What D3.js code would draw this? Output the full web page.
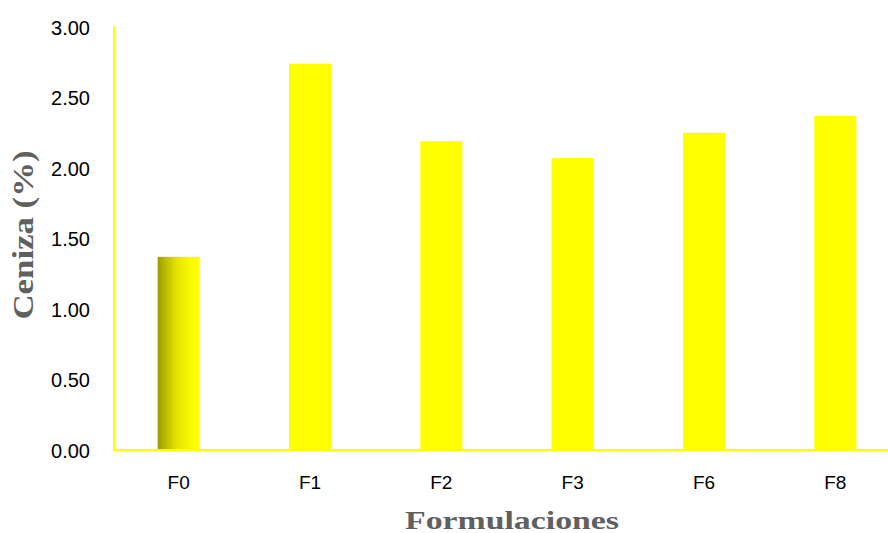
<!DOCTYPE html>
<html>
<head>
<meta charset="utf-8">
<script src="https://cdn.jsdelivr.net/npm/d3@7"></script>
<style>
  html, body { margin: 0; padding: 0; background: #ffffff; }
  svg { display: block; }
</style>
</head>
<body>
<svg id="chart" width="888" height="533"></svg>
<script>
const categories = ["F0", "F1", "F2", "F3", "F6", "F8"];
const values = [1.37, 2.74, 2.19, 2.07, 2.25, 2.37];
const yTicks = [0, 0.5, 1.0, 1.5, 2.0, 2.5, 3.0];
const xTitle = "Formulaciones";
const yTitle = "Ceniza (%)";

const svg = d3.select("#chart");
const W = 888, H = 533;
const x0 = 114, yBottom = 450, yTop = 27;

const x = d3.scaleBand().domain(categories).range([113, 901]).paddingInner(0.68).paddingOuter(0.34);
const y = d3.scaleLinear().domain([0, 3]).range([yBottom, yTop]);

const defs = svg.append("defs");
const grad = defs.append("linearGradient").attr("id", "g0").attr("x1", "0%").attr("x2", "100%").attr("y1", "0%").attr("y2", "0%");
grad.append("stop").attr("offset", "0%").attr("stop-color", "#9c9c00");
grad.append("stop").attr("offset", "45%").attr("stop-color", "#e4e400");
grad.append("stop").attr("offset", "80%").attr("stop-color", "#fbfb00");
grad.append("stop").attr("offset", "100%").attr("stop-color", "#ffff00");

// bars
svg.append("g").selectAll("rect").data(categories).join("rect")
  .attr("x", d => x(d))
  .attr("width", x.bandwidth())
  .attr("y", (d, i) => y(values[i]))
  .attr("height", (d, i) => y(0) - y(values[i]))
  .attr("fill", (d, i) => i === 0 ? "url(#g0)" : "#ffff00");

// axes lines
svg.append("line").attr("x1", x0).attr("x2", x0).attr("y1", 26).attr("y2", yBottom)
  .attr("stroke", "#ffff00").attr("stroke-width", 2);
svg.append("line").attr("x1", x0 - 1).attr("x2", W).attr("y1", yBottom).attr("y2", yBottom)
  .attr("stroke", "#ffff00").attr("stroke-width", 2);

// y axis labels
const yAxis = d3.axisLeft(y).tickValues(yTicks).tickFormat(d3.format(".2f")).tickSize(0).tickPadding(0);
const gy = svg.append("g").attr("transform", "translate(90,0)").call(yAxis);
gy.select(".domain").remove();
gy.selectAll("text").attr("font-family", "'Liberation Sans', Arial, sans-serif")
  .attr("font-size", 20).attr("fill", "#000").attr("dy", "0.35em").attr("x", 0);

// x axis labels
const xAxis = d3.axisBottom(x).tickSize(0).tickPadding(0);
const gx = svg.append("g").attr("transform", "translate(0,475)").call(xAxis);
gx.select(".domain").remove();
gx.selectAll("text").attr("font-family", "'Liberation Sans', Arial, sans-serif")
  .attr("font-size", 19).attr("fill", "#000").attr("dy", "0.71em").attr("y", 0);

// titles
svg.append("text").attr("transform", "translate(512,529) scale(1.38,1)").attr("text-anchor", "middle")
  .attr("font-family", "'Liberation Serif', 'Times New Roman', serif").attr("font-weight", "bold")
  .attr("font-size", 24.5).attr("fill", "#606060")
  .text(xTitle);

svg.append("text").attr("transform", "translate(33,235) rotate(-90) scale(1.18,1)").attr("text-anchor", "middle")
  .attr("font-family", "'Liberation Serif', 'Times New Roman', serif").attr("font-weight", "bold")
  .attr("font-size", 29.5).attr("fill", "#606060")
  .text(yTitle);
</script>
</body>
</html>
